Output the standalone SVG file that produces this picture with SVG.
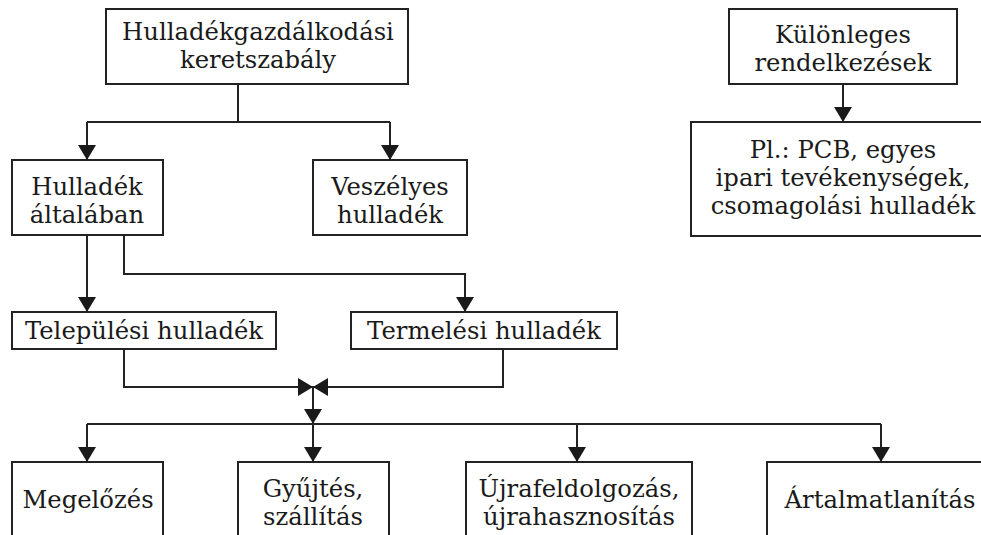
<svg xmlns="http://www.w3.org/2000/svg" width="981" height="535" viewBox="0 0 981 535">
<style>
.box{fill:#fff;stroke:#222;stroke-width:2}
.t{font-family:"DejaVu Serif","Liberation Serif",serif;font-size:24.3px;fill:#1a1a1a;text-anchor:middle}
.c{fill:none;stroke:#222;stroke-width:2}
</style>
<defs>
<marker id="ah" viewBox="0 0 15 18" refX="15" refY="9" markerWidth="15" markerHeight="18" markerUnits="userSpaceOnUse" orient="auto">
<path d="M0,0 L15,9 L0,18 Z" fill="#1a1a1a"/>
</marker>
</defs>
<rect width="981" height="535" fill="#fff"/>
<g id="connectors">
<path class="c" d="M238,84 V122"/>
<path class="c" d="M87,122 H390"/>
<path class="c" d="M87,122 V160" marker-end="url(#ah)"/>
<path class="c" d="M390,122 V160" marker-end="url(#ah)"/>
<path class="c" d="M843,84 V122" marker-end="url(#ah)"/>
<path class="c" d="M87,235 V312" marker-end="url(#ah)"/>
<path class="c" d="M124,235 V274 H465 V312" marker-end="url(#ah)"/>
<path class="c" d="M124,349 V387 H313" marker-end="url(#ah)"/>
<path class="c" d="M503,349 V387 H313" marker-end="url(#ah)"/>
<path class="c" d="M313,387 V424" marker-end="url(#ah)"/>
<path class="c" d="M87,424 H881"/>
<path class="c" d="M87,424 V462" marker-end="url(#ah)"/>
<path class="c" d="M313,424 V462" marker-end="url(#ah)"/>
<path class="c" d="M577,424 V462" marker-end="url(#ah)"/>
<path class="c" d="M881,424 V462" marker-end="url(#ah)"/>
</g>
<g id="keret">
<rect class="box" x="106" y="9" width="302" height="75"/>
<text class="t" x="258" y="40">Hulladékgazdálkodási</text>
<text class="t" x="258" y="68">keretszabály</text>
</g>
<g id="kulonleges">
<rect class="box" x="729" y="9" width="228" height="75"/>
<text class="t" x="843" y="43">Különleges</text>
<text class="t" x="843" y="71">rendelkezések</text>
</g>
<g id="pl">
<rect class="box" x="691" y="122" width="300" height="114"/>
<text class="t" x="843" y="158">Pl.: PCB, egyes</text>
<text class="t" x="843" y="186">ipari tevékenységek,</text>
<text class="t" x="843" y="214">csomagolási hulladék</text>
</g>
<g id="altalaban">
<rect class="box" x="12" y="160" width="151" height="75"/>
<text class="t" x="87" y="195">Hulladék</text>
<text class="t" x="87" y="223">általában</text>
</g>
<g id="veszelyes">
<rect class="box" x="313" y="160" width="154" height="75"/>
<text class="t" x="390" y="195">Veszélyes</text>
<text class="t" x="390" y="223">hulladék</text>
</g>
<g id="telepulesi">
<rect class="box" x="12" y="312" width="264" height="37"/>
<text class="t" x="144" y="339">Települési hulladék</text>
</g>
<g id="termelesi">
<rect class="box" x="351" y="312" width="266" height="37"/>
<text class="t" x="484" y="339">Termelési hulladék</text>
</g>
<g id="megelozes">
<rect class="box" x="12" y="462" width="151" height="90"/>
<text class="t" x="88" y="508">Megelőzés</text>
</g>
<g id="gyujtes">
<rect class="box" x="238" y="462" width="151" height="90"/>
<text class="t" x="313" y="497">Gyűjtés,</text>
<text class="t" x="313" y="525">szállítás</text>
</g>
<g id="ujra">
<rect class="box" x="466" y="462" width="226" height="90"/>
<text class="t" x="579" y="497">Újrafeldolgozás,</text>
<text class="t" x="579" y="525">újrahasznosítás</text>
</g>
<g id="artalmatlanitas">
<rect class="box" x="767" y="462" width="240" height="90"/>
<text class="t" x="880" y="508">Ártalmatlanítás</text>
</g>
</svg>
